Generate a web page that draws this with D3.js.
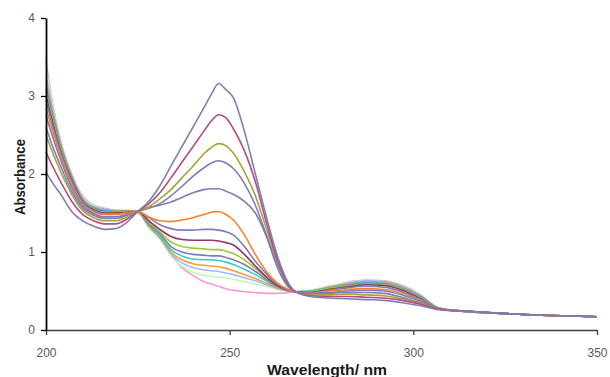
<!DOCTYPE html>
<html>
<head>
<meta charset="utf-8">
<script src="https://cdn.jsdelivr.net/npm/d3@7"></script>
<style>
  body { margin: 0; background: #fff; }
  svg { display: block; }
  .tick text { font-family: "Liberation Sans", Arial, sans-serif; font-size: 12px; fill: #595959; }
  .axis-title { font-family: "Liberation Sans", Arial, sans-serif; font-weight: bold; font-size: 15px; fill: #1a1a1a; }
</style>
</head>
<body>
<svg id="chart" width="610" height="377"></svg>
<script>
// wavelength grid (nm) the spectra were read at
const wavelengths = [200, 202, 204, 207, 210, 213, 216, 219, 222, 225,
                     228, 231, 234, 237, 240, 243, 245, 247, 249, 251, 254, 257, 260, 263, 266, 268,
                     272, 277, 282, 287, 292, 297, 302, 307, 315, 325, 335, 350];

// absorbance of each titration step
const s01 = [2.02, 1.87, 1.74, 1.52, 1.40, 1.33, 1.29, 1.30, 1.38, 1.52,
             1.65, 1.85, 2.10, 2.35, 2.60, 2.85, 3.02, 3.16, 3.08, 2.98, 2.55, 2.00, 1.45, 0.95, 0.60, 0.49,
             0.43, 0.41, 0.40, 0.39, 0.38, 0.35, 0.31, 0.26, 0.235, 0.21, 0.19, 0.17];
const s02 = [2.28, 2.08, 1.90, 1.65, 1.48, 1.40, 1.36, 1.36, 1.42, 1.52,
             1.62, 1.76, 1.95, 2.15, 2.35, 2.55, 2.68, 2.76, 2.72, 2.58, 2.30, 1.90, 1.38, 0.90, 0.58, 0.49,
             0.44, 0.43, 0.43, 0.42, 0.41, 0.38, 0.33, 0.27, 0.24, 0.21, 0.19, 0.17];
const s03 = [2.50, 2.25, 2.03, 1.74, 1.53, 1.44, 1.40, 1.40, 1.45, 1.52,
             1.58, 1.68, 1.80, 1.95, 2.10, 2.26, 2.34, 2.39, 2.36, 2.27, 2.03, 1.72, 1.30, 0.88, 0.57, 0.49,
             0.45, 0.45, 0.46, 0.45, 0.44, 0.40, 0.34, 0.27, 0.235, 0.21, 0.19, 0.17];
const s04 = [2.60, 2.33, 2.10, 1.78, 1.56, 1.47, 1.43, 1.43, 1.47, 1.52,
             1.56, 1.62, 1.72, 1.84, 1.97, 2.08, 2.14, 2.17, 2.14, 2.07, 1.88, 1.60, 1.22, 0.85, 0.56, 0.49,
             0.46, 0.47, 0.48, 0.48, 0.47, 0.42, 0.35, 0.27, 0.24, 0.21, 0.19, 0.17];
const s05 = [2.75, 2.45, 2.18, 1.83, 1.59, 1.49, 1.45, 1.45, 1.48, 1.52,
             1.57, 1.60, 1.64, 1.70, 1.76, 1.80, 1.81, 1.81, 1.78, 1.74, 1.65, 1.50, 1.20, 0.80, 0.55, 0.49,
             0.47, 0.48, 0.50, 0.51, 0.50, 0.45, 0.37, 0.27, 0.235, 0.21, 0.19, 0.17];
const s06 = [2.85, 2.52, 2.23, 1.87, 1.61, 1.51, 1.48, 1.48, 1.50, 1.52,
             1.45, 1.40, 1.39, 1.41, 1.44, 1.48, 1.51, 1.52, 1.48, 1.41, 1.22, 0.97, 0.75, 0.60, 0.52, 0.49,
             0.47, 0.50, 0.52, 0.53, 0.52, 0.47, 0.38, 0.27, 0.24, 0.21, 0.19, 0.17];
const s07 = [2.95, 2.58, 2.27, 1.90, 1.63, 1.53, 1.49, 1.49, 1.50, 1.52,
             1.44, 1.35, 1.30, 1.28, 1.28, 1.29, 1.29, 1.28, 1.26, 1.22, 1.07, 0.88, 0.72, 0.59, 0.51, 0.49,
             0.48, 0.51, 0.54, 0.56, 0.55, 0.49, 0.39, 0.27, 0.235, 0.21, 0.19, 0.17];
const s08 = [3.00, 2.62, 2.29, 1.92, 1.64, 1.54, 1.50, 1.50, 1.51, 1.52,
             1.40, 1.29, 1.20, 1.16, 1.15, 1.15, 1.15, 1.14, 1.12, 1.09, 0.97, 0.82, 0.68, 0.57, 0.51, 0.49,
             0.48, 0.52, 0.55, 0.58, 0.57, 0.51, 0.40, 0.27, 0.24, 0.21, 0.19, 0.17];
const s09 = [3.05, 2.66, 2.32, 1.93, 1.65, 1.55, 1.51, 1.51, 1.52, 1.52,
             1.38, 1.26, 1.13, 1.07, 1.05, 1.04, 1.03, 1.03, 1.01, 0.98, 0.90, 0.79, 0.67, 0.57, 0.51, 0.49,
             0.49, 0.53, 0.56, 0.59, 0.58, 0.52, 0.41, 0.28, 0.235, 0.21, 0.19, 0.17];
const s10 = [3.10, 2.70, 2.34, 1.95, 1.66, 1.56, 1.52, 1.52, 1.52, 1.52,
             1.36, 1.24, 1.07, 1.00, 0.97, 0.96, 0.95, 0.95, 0.93, 0.90, 0.84, 0.75, 0.65, 0.56, 0.51, 0.49,
             0.49, 0.53, 0.57, 0.60, 0.59, 0.53, 0.42, 0.28, 0.24, 0.21, 0.19, 0.17];
const s11 = [3.15, 2.73, 2.36, 1.96, 1.67, 1.57, 1.53, 1.52, 1.52, 1.52,
             1.35, 1.21, 1.03, 0.95, 0.91, 0.90, 0.90, 0.89, 0.87, 0.84, 0.78, 0.71, 0.63, 0.55, 0.50, 0.49,
             0.50, 0.54, 0.58, 0.61, 0.60, 0.54, 0.43, 0.28, 0.235, 0.21, 0.19, 0.17];
const s12 = [3.20, 2.76, 2.38, 1.97, 1.68, 1.57, 1.54, 1.53, 1.53, 1.52,
             1.33, 1.19, 1.00, 0.90, 0.85, 0.83, 0.82, 0.81, 0.79, 0.76, 0.71, 0.66, 0.60, 0.54, 0.50, 0.49,
             0.50, 0.55, 0.59, 0.62, 0.61, 0.55, 0.43, 0.28, 0.24, 0.21, 0.19, 0.17];
const s13 = [3.25, 2.79, 2.39, 1.98, 1.69, 1.58, 1.55, 1.53, 1.53, 1.51,
             1.32, 1.18, 0.98, 0.86, 0.80, 0.77, 0.76, 0.75, 0.73, 0.71, 0.67, 0.63, 0.58, 0.53, 0.50, 0.49,
             0.50, 0.55, 0.60, 0.63, 0.62, 0.56, 0.44, 0.28, 0.235, 0.21, 0.19, 0.17];
const s14 = [3.35, 2.82, 2.40, 1.99, 1.70, 1.59, 1.55, 1.53, 1.52, 1.51,
             1.31, 1.17, 0.95, 0.82, 0.74, 0.70, 0.69, 0.68, 0.67, 0.65, 0.62, 0.59, 0.56, 0.52, 0.50, 0.49,
             0.51, 0.56, 0.60, 0.63, 0.62, 0.56, 0.44, 0.28, 0.24, 0.21, 0.19, 0.17];
const s15 = [3.45, 2.85, 2.42, 2.00, 1.72, 1.60, 1.56, 1.53, 1.52, 1.50,
             1.38, 1.22, 0.98, 0.80, 0.70, 0.62, 0.59, 0.56, 0.53, 0.51, 0.49, 0.48, 0.47, 0.47, 0.48, 0.49,
             0.51, 0.56, 0.61, 0.64, 0.63, 0.57, 0.45, 0.28, 0.235, 0.21, 0.19, 0.17];

const seriesValues = [s01, s02, s03, s04, s05, s06, s07, s08, s09, s10, s11, s12, s13, s14, s15];
const seriesColors = ["#7d7db8", "#b84a80", "#a5a536", "#7d7db8", "#7d7db8", "#ff7f2a", "#7d7db8",
                      "#993366", "#99cc33", "#7d7db8", "#33cccc", "#ff9933", "#99bbff", "#c4f5c0", "#ff99cc"];

const xTicks = [200, 250, 300, 350];
const yTicks = [0, 1, 2, 3, 4];

const svg = d3.select("#chart");

const x = d3.scaleLinear().domain([200, 350]).range([46, 597]);
const y = d3.scaleLinear().domain([0, 4]).range([330, 18]);

const line = d3.line()
    .x(d => x(d[0]))
    .y(d => y(d[1]))
    .curve(d3.curveMonotoneX);

// spectra, last step drawn first so the first one sits on top
svg.append("g")
    .selectAll("path")
    .data(seriesValues.map((vals, i) => ({ vals: vals, color: seriesColors[i] })).reverse())
    .enter().append("path")
    .attr("fill", "none")
    .attr("stroke", d => d.color)
    .attr("stroke-width", 1.6)
    .attr("stroke-linejoin", "round")
    .attr("d", d => line(wavelengths.map((w, j) => [w, d.vals[j]])));

// axes
const xAxis = svg.append("g")
    .attr("transform", "translate(0,330)")
    .call(d3.axisBottom(x).tickValues(xTicks).tickFormat(d3.format("d"))
        .tickSize(5).tickSizeOuter(0).tickPadding(13));
xAxis.select(".domain").attr("stroke", "#404040").attr("stroke-width", 1.5);
xAxis.selectAll(".tick line").attr("stroke", "#404040").attr("stroke-width", 1.3);

const yAxis = svg.append("g")
    .attr("transform", "translate(46,0)")
    .call(d3.axisLeft(y).tickValues(yTicks).tickFormat(d3.format("d"))
        .tickSize(5).tickSizeOuter(0).tickPadding(6));
yAxis.select(".domain").attr("stroke", "#000").attr("stroke-width", 1.8);
yAxis.selectAll(".tick line").attr("stroke", "#000").attr("stroke-width", 1.3);

// titles
svg.append("text")
    .attr("class", "axis-title")
    .attr("x", 327).attr("y", 375)
    .attr("text-anchor", "middle")
    .attr("textLength", 120).attr("lengthAdjust", "spacingAndGlyphs")
    .text("Wavelength/ nm");

svg.append("text")
    .attr("class", "axis-title")
    .attr("transform", "translate(25,177) rotate(-90)")
    .attr("text-anchor", "middle")
    .attr("textLength", 76).attr("lengthAdjust", "spacingAndGlyphs")
    .text("Absorbance");
</script>
</body>
</html>
